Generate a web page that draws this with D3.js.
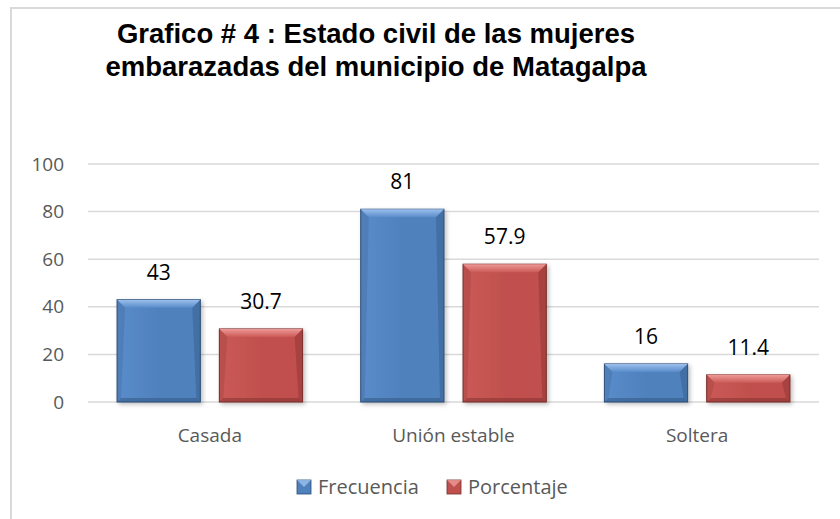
<!DOCTYPE html>
<html>
<head>
<meta charset="utf-8">
<script src="https://cdnjs.cloudflare.com/ajax/libs/d3/7.8.5/d3.min.js"></script>
<style>
  body { margin: 0; background: #fff; }
  svg text { font-family: "Open Sans", Lato, sans-serif; }
  .title { font-family: "Liberation Sans", Arial, sans-serif !important; font-weight: bold; fill: #000; }
</style>
</head>
<body>
<svg width="840" height="519"></svg>
<script>
// data
var categories = ["Casada", "Unión estable", "Soltera"];
var series = ["Frecuencia", "Porcentaje"];
var frecuencia = [43, 81, 16];
var porcentaje = [30.7, 57.9, 11.4];
var yTicks = [0, 20, 40, 60, 80, 100];
var titleLines = ["Grafico # 4 : Estado civil de las mujeres", "embarazadas del municipio de Matagalpa"];

var colors = {
    Frecuencia: { base: "#4f81bd", light: "#9cc0ec", dark: "#2c4d75", mid: "#5a8ccb" },
    Porcentaje: { base: "#c0504d", light: "#ee9a97", dark: "#772c2a", mid: "#cb5a57" }
};

var svg = d3.select("svg"),
    margin = { top: 164, right: 21, bottom: 117, left: 88 },
    width = +svg.attr("width") - margin.left - margin.right,
    height = +svg.attr("height") - margin.top - margin.bottom;

// chart area border
svg.append("path")
    .attr("d", "M11,519 L11,8 L840,8")
    .attr("fill", "none")
    .attr("stroke", "#d9d9d9")
    .attr("stroke-width", 2);

// title
svg.selectAll(".title").data(titleLines).enter().append("text")
    .attr("class", "title")
    .attr("x", 376)
    .attr("y", function (d, i) { return 43 + i * 33; })
    .attr("text-anchor", "middle")
    .attr("font-size", 27.5)
    .text(function (d) { return d; });

var x0 = d3.scaleBand().domain(categories).range([0, width]).padding(0);
var x1 = d3.scaleBand().domain(series).range([0, x0.bandwidth()])
    .paddingInner(0.186).paddingOuter(0.284);
var y = d3.scaleLinear().domain([0, 100]).range([height, 0]);

var g = svg.append("g")
    .attr("transform", "translate(" + margin.left + "," + margin.top + ")");

// gridlines
g.selectAll(".grid").data(yTicks).enter().append("line")
    .attr("x1", 0).attr("x2", width)
    .attr("y1", function (d) { return y(d); })
    .attr("y2", function (d) { return y(d); })
    .attr("stroke", "#d9d9d9")
    .attr("stroke-width", 1.5);

// y tick labels
g.selectAll(".ytick").data(yTicks).enter().append("text")
    .attr("x", -24)
    .attr("y", function (d) { return y(d); })
    .attr("dy", "0.35em")
    .attr("text-anchor", "end")
    .attr("font-size", 19)
    .attr("fill", "#595959")
    .text(function (d) { return d; });

// category labels
g.selectAll(".xlab").data(categories).enter().append("text")
    .attr("x", function (d) { return x0(d) + x0.bandwidth() / 2; })
    .attr("y", height + 40)
    .attr("text-anchor", "middle")
    .attr("font-size", 19)
    .attr("fill", "#595959")
    .text(function (d) { return d; });

// gradients
var defs = svg.append("defs");
series.forEach(function (s) {
    var c = colors[s];
    var gr = defs.append("linearGradient").attr("id", "grad-" + s)
        .attr("x1", 0).attr("x2", 1).attr("y1", 0).attr("y2", 0);
    gr.append("stop").attr("offset", "0%").attr("stop-color", c.mid);
    gr.append("stop").attr("offset", "50%").attr("stop-color", c.base);
    gr.append("stop").attr("offset", "100%").attr("stop-color", c.base);
    var tg = defs.append("linearGradient").attr("id", "top-" + s)
        .attr("x1", 0).attr("x2", 0).attr("y1", 0).attr("y2", 1);
    tg.append("stop").attr("offset", "0%").attr("stop-color", c.light);
    tg.append("stop").attr("offset", "100%").attr("stop-color", c.mid);
});
var sh = defs.append("filter").attr("id", "shadow")
    .attr("x", "-20%").attr("y", "-20%").attr("width", "140%").attr("height", "140%");
sh.append("feDropShadow").attr("dx", 2).attr("dy", 2).attr("stdDeviation", 2)
    .attr("flood-color", "#000").attr("flood-opacity", 0.25);

var rows = categories.map(function (c, i) {
    return { cat: c, values: [
        { s: "Frecuencia", v: frecuencia[i] },
        { s: "Porcentaje", v: porcentaje[i] }
    ] };
});

var bev = 8;
var cats = g.selectAll(".cat").data(rows).enter().append("g")
    .attr("transform", function (d) { return "translate(" + x0(d.cat) + ",0)"; });

var bars = cats.selectAll(".bar").data(function (d) { return d.values; }).enter().append("g");

bars.append("rect")
    .attr("x", function (d) { return x1(d.s); })
    .attr("y", function (d) { return y(d.v); })
    .attr("width", x1.bandwidth())
    .attr("height", function (d) { return height - y(d.v); })
    .attr("fill", function (d) { return "url(#grad-" + d.s + ")"; })
    .attr("stroke", function (d) { return colors[d.s].dark; })
    .attr("stroke-width", 1)
    .attr("filter", "url(#shadow)");

// bevel: top light strip
bars.append("path")
    .attr("d", function (d) {
        var x = x1(d.s), w = x1.bandwidth(), t = y(d.v);
        return "M" + x + "," + t + " L" + (x + w) + "," + t +
            " L" + (x + w - bev) + "," + (t + bev) + " L" + (x + bev) + "," + (t + bev) + " Z";
    })
    .attr("fill", function (d) { return "url(#top-" + d.s + ")"; });

// bevel: right dark strip
bars.append("path")
    .attr("d", function (d) {
        var x = x1(d.s), w = x1.bandwidth(), t = y(d.v), b = height;
        return "M" + (x + w) + "," + t + " L" + (x + w) + "," + b +
            " L" + (x + w - bev / 2) + "," + (b - bev / 2) + " L" + (x + w - bev) + "," + (t + bev) + " Z";
    })
    .attr("fill", function (d) { return colors[d.s].dark; })
    .attr("opacity", 0.35);

// bevel: left strip
bars.append("path")
    .attr("d", function (d) {
        var x = x1(d.s), t = y(d.v), b = height;
        return "M" + x + "," + t + " L" + (x + bev) + "," + (t + bev) +
            " L" + (x + bev / 2) + "," + (b - bev / 2) + " L" + x + "," + b + " Z";
    })
    .attr("fill", function (d) { return colors[d.s].dark; })
    .attr("opacity", 0.2);

// bevel: bottom dark strip
bars.append("path")
    .attr("d", function (d) {
        var x = x1(d.s), w = x1.bandwidth(), b = height;
        return "M" + x + "," + b + " L" + (x + bev / 2) + "," + (b - bev / 2) +
            " L" + (x + w - bev / 2) + "," + (b - bev / 2) + " L" + (x + w) + "," + b + " Z";
    })
    .attr("fill", function (d) { return colors[d.s].dark; })
    .attr("opacity", 0.45);

// value labels
bars.append("text")
    .attr("x", function (d) { return x1(d.s) + x1.bandwidth() / 2; })
    .attr("y", function (d) { return y(d.v) - 20; })
    .attr("text-anchor", "middle")
    .attr("font-size", 21)
    .attr("fill", "#000")
    .text(function (d) { return d.v; });

// legend
var legend = svg.append("g").attr("transform", "translate(297,480)");
var legX = [0, 150];
series.forEach(function (s, i) {
    var lg = legend.append("g").attr("transform", "translate(" + legX[i] + ",0)");
    lg.append("rect").attr("width", 14).attr("height", 14)
        .attr("fill", colors[s].base).attr("stroke", colors[s].dark).attr("stroke-width", 0.8);
    lg.append("path").attr("d", "M0,0 L14,0 L7,7 Z").attr("fill", colors[s].light).attr("opacity", 0.8);
    lg.append("text").attr("x", 21).attr("y", 7).attr("dy", "0.35em")
        .attr("font-size", 20).attr("fill", "#595959").text(s);
});
</script>
</body>
</html>
